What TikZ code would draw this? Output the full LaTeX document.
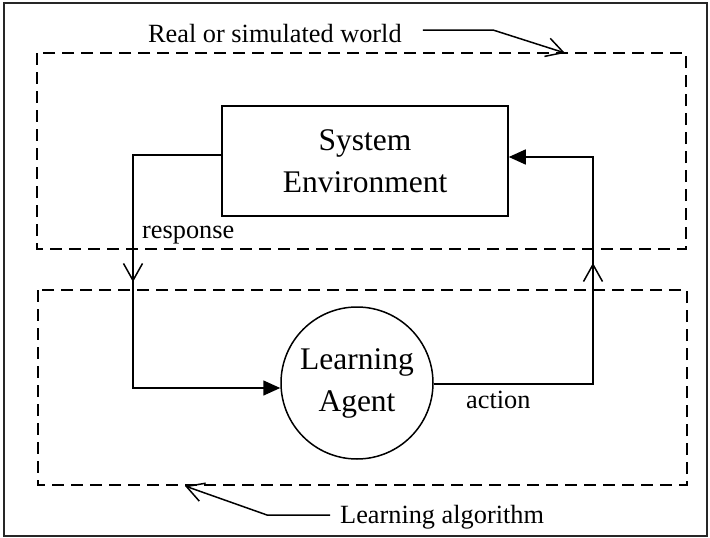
\documentclass[tikz,border=0pt]{standalone}
\usepackage{fontspec}
\setmainfont{Liberation Serif}
\usetikzlibrary{arrows.meta}
\begin{document}
\begin{tikzpicture}[x=1pt,y=-1pt,
  conn/.style={line width=1.5pt, line join=miter},
  dashbox/.style={line width=2pt, dash pattern=on 12pt off 7pt},
  bigtext/.style={font=\fontsize{31.5}{42}\selectfont, align=center},
  smalltext/.style={font=\fontsize{26.3}{30}\selectfont, inner sep=0pt},
  openarr/.style={-{Straight Barb[length=17pt,width=19pt,line width=1.5pt]}},
  fillarr/.style={-{Triangle[length=17pt,width=15pt]}}]
\useasboundingbox (0,0) rectangle (710,538);
% outer frame
\draw[line width=1.8pt, black!85] (4,3) rectangle (707,536);
% dashed regions
\draw[dashbox] (37,53) rectangle (686,249);
\draw[dashbox] (38,290) rectangle (687,485);
% main nodes
\node[draw, conn, bigtext, minimum width=286pt, minimum height=110pt, inner sep=0pt] (env) at (365,161) {System\\Environment};
\node[draw, conn, circle, bigtext, minimum size=152pt, inner sep=0pt] (agent) at (357,383) {Learning\\Agent};
% corner coordinates
\coordinate (rc) at (133,155);
\coordinate (ri) at (133,388);
\coordinate (rm) at (133,282);
\coordinate (rt) at (133,250);
\coordinate (ac) at (593,384);
\coordinate (ec) at (593,157);
\coordinate (am) at (593,263);
\coordinate (ab) at (593,290);
% response loop
\draw[conn, fillarr] (rc -| env.west) -- (rc) -- (ri) -- (ri -| agent.west);
\draw[conn, openarr] (rt) -- (rm);
% action loop
\draw[conn, fillarr] (ac -| agent.east) -- (ac) -- (ec) -- (ec -| env.east);
\draw[conn, openarr] (ab) -- (am);
% labels
\node[smalltext, anchor=base west] (resp) at (142,238) {response};
\node[smalltext, anchor=base west] (act) at (466,408) {action};
\node[smalltext, anchor=base west] (wl) at (148,42) {Real or simulated world};
\node[smalltext, anchor=base west] (al) at (340,523) {Learning algorithm};
% label pointers
\coordinate (wk) at (493,30);
\coordinate (wt) at (565,53);
\coordinate (ak) at (267,515);
\coordinate (at) at (185,486);
\draw[conn, openarr] ([xshift=21pt]wl.east |- wk) -- (wk) -- (wt);
\draw[conn, openarr] ([xshift=-10pt]al.west |- ak) -- (ak) -- (at);
\end{tikzpicture}
\end{document}
